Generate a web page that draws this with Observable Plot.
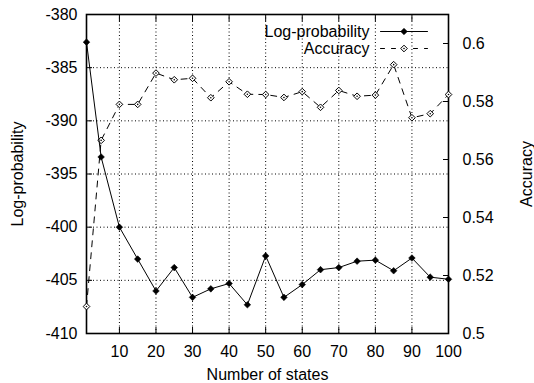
<!DOCTYPE html>
<html>
<head>
<meta charset="utf-8">
<script src="https://cdn.jsdelivr.net/npm/d3@7"></script>
<script src="https://cdn.jsdelivr.net/npm/@observablehq/plot@0.6"></script>
<style>
  html, body { margin: 0; padding: 0; background: white; }
  #chart { width: 534px; height: 383px; }
</style>
</head>
<body>
<div id="chart"></div>
<script>
const states = [1, 5, 10, 15, 20, 25, 30, 35, 40, 45, 50, 55, 60, 65, 70, 75, 80, 85, 90, 95, 100];
const logProb = [-382.6, -393.4, -400.0, -403.0, -406.0, -403.8, -406.6, -405.8, -405.3, -407.3, -402.7,
                 -406.6, -405.4, -404.0, -403.8, -403.2, -403.1, -404.1, -402.9, -404.7, -404.9];
const accuracy = [0.5093, 0.5666, 0.5790, 0.5790, 0.5898, 0.5875, 0.5880, 0.5813, 0.5868, 0.5825, 0.5824,
                  0.5814, 0.5834, 0.5780, 0.5838, 0.5818, 0.5822, 0.5927, 0.5744, 0.5758, 0.5824];

const xTicks = [10, 20, 30, 40, 50, 60, 70, 80, 90, 100];
const leftTicks = [-410, -405, -400, -395, -390, -385, -380];
const rightTicks = [0.5, 0.52, 0.54, 0.56, 0.58, 0.6];
const xDomain = [1, 100];
const leftDomain = [-410, -380];
const rightDomain = [0.5, 0.61];
const seriesNames = ["Log-probability", "Accuracy"];
const xLabel = "Number of states";

const toLeft = a => leftDomain[0] + (a - rightDomain[0]) * (leftDomain[1] - leftDomain[0]) / (rightDomain[1] - rightDomain[0]);
const fromLeft = v => rightDomain[0] + (v - leftDomain[0]) * (rightDomain[1] - rightDomain[0]) / (leftDomain[1] - leftDomain[0]);

const rows = states.map((s, i) => ({s, lp: logProb[i], acc: toLeft(accuracy[i])}));

const lineShape = {
  draw(context, l) { context.moveTo(0, 0); context.lineTo(0, -l); }
};

const font = "'Liberation Sans', Arial, Helvetica, sans-serif";
const dash = "6,6";

const chart = Plot.plot({
  width: 534,
  height: 383,
  marginLeft: 86,
  marginRight: 86,
  marginTop: 14,
  marginBottom: 50,
  style: {fontFamily: font, fontSize: "16px", background: "white", color: "black", overflow: "visible"},
  x: {domain: xDomain},
  y: {domain: leftDomain},
  marks: [
    Plot.gridX(xTicks, {stroke: "black", strokeOpacity: 1, strokeDasharray: "1,2.5"}),
    Plot.gridY(leftTicks, {stroke: "black", strokeOpacity: 1, strokeDasharray: "1,2.5"}),
    Plot.axisX({anchor: "bottom", ticks: xTicks, tickSize: -6, tickPadding: 18, tickFormat: d => String(d), label: xLabel, labelAnchor: "center", labelOffset: 46, labelArrow: "none", fontSize: 16}),
    Plot.axisX({anchor: "top", ticks: xTicks, tickSize: -6, tickFormat: () => "", label: null}),
    Plot.axisY({anchor: "left", ticks: leftTicks, tickSize: -6, tickPadding: 15, tickFormat: d => String(d), label: seriesNames[0], labelAnchor: "center", labelOffset: 75, labelArrow: "none", fontSize: 16}),
    Plot.axisY({anchor: "right", ticks: rightTicks.map(toLeft), tickSize: -6, tickPadding: 20,
                tickFormat: v => String(+fromLeft(v).toFixed(3)), label: seriesNames[1], labelAnchor: "center", labelOffset: 83, labelArrow: "none", fontSize: 16}),
    Plot.frame({stroke: "black", strokeWidth: 1.6}),
    Plot.line(rows, {x: "s", y: "acc", stroke: "black", strokeWidth: 1, strokeDasharray: dash}),
    Plot.dot(rows, {x: "s", y: "acc", symbol: "diamond2", r: 3, fill: "white", stroke: "black", strokeWidth: 1}),
    Plot.dot(rows, {x: "s", y: "acc", r: 0.8, fill: "black", stroke: null}),
    Plot.line(rows, {x: "s", y: "lp", stroke: "black", strokeWidth: 1}),
    Plot.dot(rows, {x: "s", y: "lp", symbol: "diamond2", r: 3, fill: "black", stroke: "black", strokeWidth: 0.5}),
    // legend
    Plot.text([seriesNames[0]], {text: d => d, frameAnchor: "top-right", dx: -79, dy: 17, textAnchor: "end", lineAnchor: "middle", fontSize: 16}),
    Plot.text([seriesNames[1]], {text: d => d, frameAnchor: "top-right", dx: -79, dy: 34, textAnchor: "end", lineAnchor: "middle", fontSize: 16}),
    Plot.vector([seriesNames[0]], {frameAnchor: "top-right", dx: -44.5, dy: 17, length: 47, rotate: 90, anchor: "middle", shape: lineShape, stroke: "black", strokeWidth: 1}),
    Plot.vector([seriesNames[1]], {frameAnchor: "top-right", dx: -44.5, dy: 34, length: 47, rotate: 90, anchor: "middle", shape: lineShape, stroke: "black", strokeWidth: 1, strokeDasharray: "4,7"}),
    Plot.dot([seriesNames[0]], {frameAnchor: "top-right", dx: -44.5, dy: 17, symbol: "diamond2", r: 3, fill: "black", stroke: "black", strokeWidth: 0.5}),
    Plot.dot([seriesNames[1]], {frameAnchor: "top-right", dx: -44.5, dy: 34, symbol: "diamond2", r: 3, fill: "white", stroke: "black", strokeWidth: 1}),
    Plot.dot([seriesNames[1]], {frameAnchor: "top-right", dx: -44.5, dy: 34, r: 0.8, fill: "black", stroke: null})
  ]
});
document.getElementById("chart").appendChild(chart);
</script>
</body>
</html>
